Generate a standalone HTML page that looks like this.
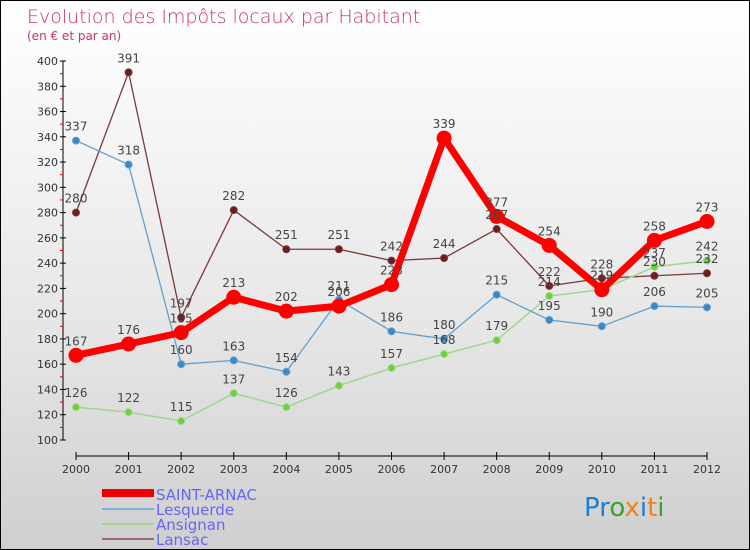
<!DOCTYPE html>
<html><head><meta charset="utf-8"><style>
body{margin:0}
#c{width:748px;height:548px;border:1px solid #000;background:linear-gradient(#ffffff,#e6e6e6 60%,#cfcfcf);position:relative;overflow:hidden;font-family:"DejaVu Sans","Liberation Sans",sans-serif}
</style></head><body>
<div id="c">
<svg id="s" width="748" height="548" xmlns="http://www.w3.org/2000/svg">
<text x="26" y="22" font-size="19" fill="#c8336a" font-family="DejaVu Sans" style="font-weight:200">Evolution des Impôts locaux par Habitant</text>
<text x="26" y="39" font-size="12" fill="#c8336a">(en € et par an)</text>
<g id="axes"></g><g id="series"></g><g id="labels"></g>
<g>
<rect x="101" y="488" width="52" height="8" fill="#e00"/>
<text x="155" y="499" font-size="15" fill="#6666ee">SAINT-ARNAC</text>
<rect x="101" y="507" width="52" height="2" fill="#7fb0d4"/>
<text x="155" y="514" font-size="15" fill="#6666ee">Lesquerde</text>
<rect x="101" y="522" width="52" height="2" fill="#9ed88c"/>
<text x="155" y="529" font-size="15" fill="#6666ee">Ansignan</text>
<rect x="101" y="537" width="52" height="2" fill="#a06a6a"/>
<text x="155" y="544" font-size="15" fill="#6666ee">Lansac</text>
</g>
<text x="583" y="515" font-size="26" font-family="DejaVu Sans"><tspan fill="#1a7fd6">Pr</tspan><tspan fill="#3aa03a">o</tspan><tspan fill="#f08020">x</tspan><tspan fill="#1a7fd6">i</tspan><tspan fill="#f08020">t</tspan><tspan fill="#3aa03a">i</tspan></text>
</svg>
</div>
<script>
const years=["2000","2001","2002","2003","2004","2005","2006","2007","2008","2009","2010","2011","2012"];
const yTicks=[100,120,140,160,180,200,220,240,260,280,300,320,340,360,380,400];
const saintArnac=[167,176,185,213,202,206,223,339,277,254,219,258,273];
const lesquerde=[337,318,160,163,154,211,186,180,215,195,190,206,205];
const ansignan=[126,122,115,137,126,143,157,168,179,214,219,237,242];
const lansac=[280,391,197,282,251,251,242,244,267,222,228,230,232];
const NS="http://www.w3.org/2000/svg";
function X(i){return 75+i*(706-75)/(years.length-1);}
function Y(v){return 439-(v-100)*(439-60)/300;}
function mk(t,a,p){const e=document.createElementNS(NS,t);for(const k in a)e.setAttribute(k,a[k]);p.appendChild(e);return e;}
const ax=document.getElementById('axes');
const yl=mk('line',{x1:62,y1:60,x2:62,y2:439,stroke:'#000'},ax);


yTicks.forEach(v=>{
 mk('line',{x1:59,y1:Y(v),x2:65,y2:Y(v),stroke:'#000'},ax);
 if(v<400) mk('line',{x1:59,y1:Y(v+10),x2:62,y2:Y(v+10),stroke:'#e00'},ax);
 const t=mk('text',{x:57,y:Y(v)+4,'font-size':11,fill:'#333','text-anchor':'end'},ax);t.textContent=v;
 
 
});
const xl=mk('line',{x1:75,y1:455,x2:706,y2:455,stroke:'#000'},ax);


years.forEach((y,i)=>{
 mk('line',{x1:X(i),y1:451,x2:X(i),y2:459,stroke:'#000'},ax);
 const t=mk('text',{x:X(i),y:472,'font-size':11,fill:'#333','text-anchor':'middle'},ax);t.textContent=y;
 
 
});
const sg=document.getElementById('series'),lg=document.getElementById('labels');
function draw(d,name,color,w,r,dot){
 const p=mk('polyline',{points:d.map((v,i)=>X(i)+','+Y(v)).join(' '),fill:'none',stroke:color,'stroke-width':w,'stroke-linejoin':'round'},sg);
 
 
 d.forEach((v,i)=>{
  const c=mk('circle',{cx:X(i),cy:Y(v),r:r,fill:dot,stroke:color,'stroke-width':1},sg);
  
  
  const t=mk('text',{x:X(i),y:Y(v)-10,'font-size':12,fill:'#444','text-anchor':'middle'},lg);t.textContent=v;
  
  
 });
}
draw(lansac,'lansac','#7a3a3a',1.3,3.5,'#6b1c1c');
draw(ansignan,'ansignan','#9ed88c',1.5,3.5,'#6fcf3a');
draw(lesquerde,'lesquerde','#5fa0d0',1.3,3.5,'#3a88c8');
draw(saintArnac,'saint-arnac','#ff0000',7,7,'#ff0000');
</script>
</body></html>
